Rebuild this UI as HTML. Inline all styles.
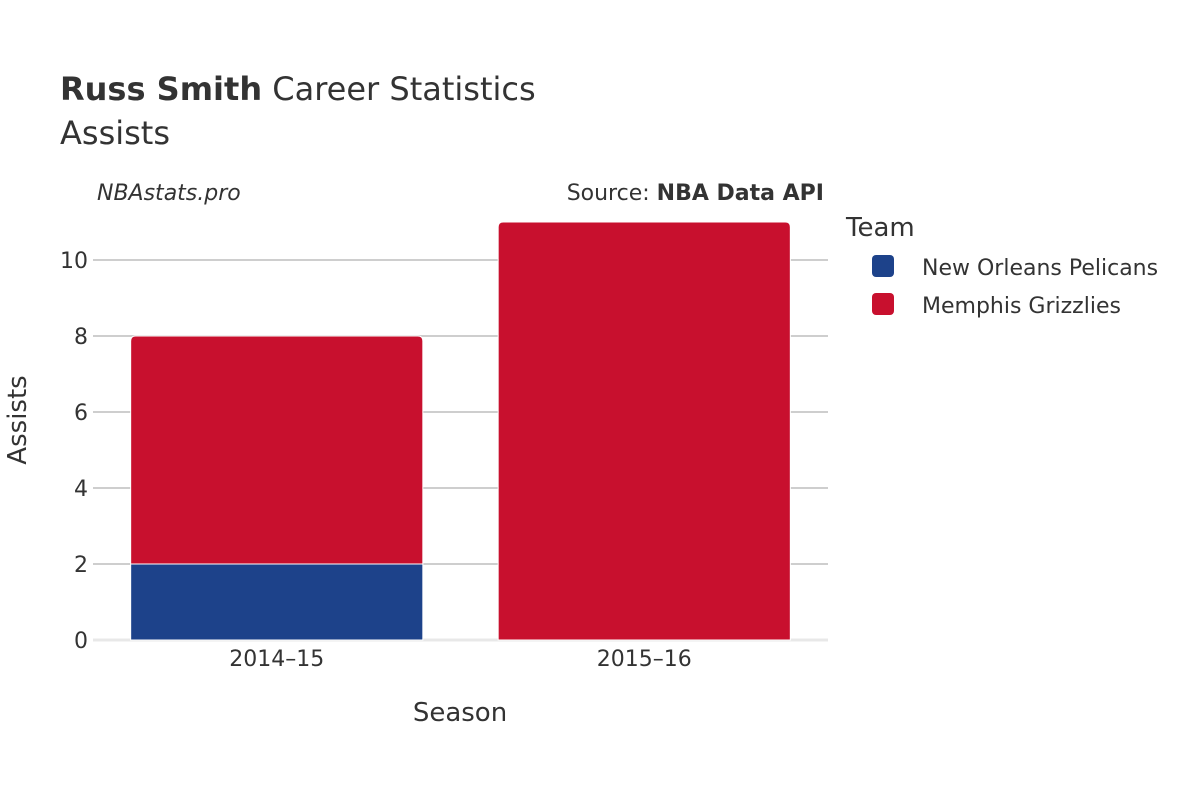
<!DOCTYPE html>
<html><head><meta charset="utf-8"><style>
body{margin:0;background:#fff;}
svg text{font-family:"DejaVu Sans","Liberation Sans",sans-serif;fill:#333;}
</style></head><body>
<svg width="1200" height="800" xmlns="http://www.w3.org/2000/svg">
<text x="60" y="100" font-size="32"><tspan font-weight="bold">Russ Smith</tspan> Career Statistics</text>
<text x="60" y="144" font-size="32">Assists</text>
<text x="97" y="200" font-size="22" font-style="italic">NBAstats.pro</text>
<text x="824" y="200" font-size="22" text-anchor="end">Source: <tspan font-weight="bold">NBA Data API</tspan></text>
<g id="grid"></g>
<g id="bars"></g>
<g id="yticks"></g>
<g id="xticks"></g>
<text x="460" y="721" font-size="26" text-anchor="middle">Season</text>
<text transform="translate(26,420) rotate(-90)" font-size="26" text-anchor="middle">Assists</text>
<text x="846" y="236" font-size="26">Team</text>
<g>
<rect x="872" y="255" width="22" height="22" rx="4" fill="#1d428a"/>
<text x="922" y="275" font-size="22">New Orleans Pelicans</text></g>
<g>
<rect x="872" y="293" width="22" height="22" rx="4" fill="#c8102e"/>
<text x="922" y="313" font-size="22">Memphis Grizzlies</text></g>
</svg>
<script>
const seasons=["2014–15","2015–16"];
const pelicans=[2,0];
const grizzlies=[6,11];
const yTicks=[0,2,4,6,8,10];
const NS="http://www.w3.org/2000/svg";
const x0=93,x1=828,yBase=640,pxPerUnit=38;
const y=v=>yBase-v*pxPerUnit;
const band=(x1-x0)/seasons.length;
const cx=i=>x0+band*(i+0.5);
const bw=band*0.795;
function mk(tag,attrs,parent){const e=document.createElementNS(NS,tag);for(const k in attrs)e.setAttribute(k,attrs[k]);document.getElementById(parent).appendChild(e);return e;}
yTicks.forEach(t=>{
 const l=mk('line',{x1:x0,x2:x1,y1:y(t),y2:y(t),stroke:t===0?'#e8e8e8':'#bdbdbd','stroke-width':t===0?3:1.5},'grid');
 
 
 const tx=mk('text',{x:88,y:y(t)+8,'font-size':22,'text-anchor':'end'},'yticks');
 tx.textContent=t;
 
 
});
function barPath(xl,w,yt,yb,r){
 if(r<=0)return `M${xl},${yb}V${yt}H${xl+w}V${yb}Z`;
 return `M${xl},${yb}V${yt+r}Q${xl},${yt} ${xl+r},${yt}H${xl+w-r}Q${xl+w},${yt} ${xl+w},${yt+r}V${yb}Z`;
}
seasons.forEach((s,i)=>{
 const xl=cx(i)-bw/2;
 let base=0;
 if(pelicans[i]>0){
  const p=mk('path',{d:barPath(xl,bw,y(pelicans[i]),y(0),0),fill:'#1d428a',stroke:'#fff','stroke-width':1},'bars');
  
  
  base=pelicans[i];
 }
 if(grizzlies[i]>0){
  const p=mk('path',{d:barPath(xl,bw,y(base+grizzlies[i]),y(base),5),fill:'#c8102e',stroke:'#fff','stroke-width':1},'bars');
  
  
 }
 const tx=mk('text',{x:cx(i),y:666,'font-size':22,'text-anchor':'middle'},'xticks');
 tx.textContent=s;
 
 
});
</script>
</body></html>
